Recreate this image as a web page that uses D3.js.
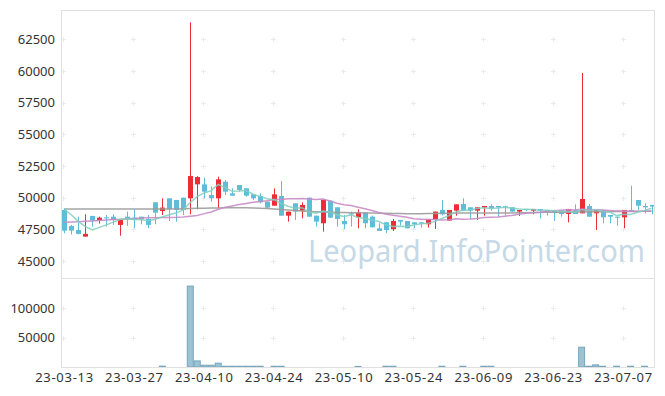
<!DOCTYPE html>
<html><head><meta charset="utf-8">
<script src="https://cdn.jsdelivr.net/npm/d3@7"></script>
<style>body{margin:0;background:#fff}svg{display:block}</style>
</head><body><svg id="c" width="665" height="396"></svg>
<script>
const dates = [
"23-03-13","23-03-14","23-03-15","23-03-16","23-03-17","23-03-20","23-03-21","23-03-22","23-03-23","23-03-24",
"23-03-27","23-03-28","23-03-29","23-03-30","23-03-31","23-04-03","23-04-04","23-04-05","23-04-06","23-04-07",
"23-04-10","23-04-11","23-04-12","23-04-13","23-04-14","23-04-17","23-04-18","23-04-19","23-04-20","23-04-21",
"23-04-24","23-04-25","23-04-26","23-04-27","23-04-28","23-05-02","23-05-03","23-05-04","23-05-08","23-05-09",
"23-05-10","23-05-11","23-05-12","23-05-15","23-05-16","23-05-17","23-05-18","23-05-19","23-05-22","23-05-23",
"23-05-24","23-05-25","23-05-26","23-05-30","23-05-31","23-06-01","23-06-02","23-06-05","23-06-07","23-06-08",
"23-06-09","23-06-12","23-06-13","23-06-14","23-06-15","23-06-16","23-06-19","23-06-20","23-06-21","23-06-22",
"23-06-23","23-06-26","23-06-27","23-06-28","23-06-29","23-06-30","23-07-03","23-07-04","23-07-05","23-07-06",
"23-07-07","23-07-10","23-07-11","23-07-12","23-07-13"];
const opens = [
49030,47770,47450,46925,48560,48190,48450,48500,47850,48500,
48425,48500,48320,49635,48950,49950,49820,50000,49950,51055,
51055,50210,49950,51265,50345,51000,50740,50265,50135,49690,
49370,50135,48580,49555,48975,50000,48580,47980,49765,49240,
48160,48765,48450,48845,48500,47580,48055,47505,48240,48160,
48055,48055,47900,48295,49030,48190,48975,49500,49240,48975,
49215,49345,49345,49320,49240,48900,49100,48975,49110,49030,
48975,48975,48715,49030,48765,49345,48765,49030,48635,48500,
48450,49030,49820,49345,49425];
const highs = [
49160,47850,48500,48690,48560,48500,48635,48690,48240,48900,
49080,48500,48635,49635,49950,49950,49820,50000,63850,51700,
51580,50870,51660,51400,50740,51000,50740,50265,50345,49690,
50740,51320,48900,49555,49635,50000,48580,49820,49765,49240,
48635,48900,49080,48845,48580,47980,48055,48320,48240,48160,
48055,48055,48320,48900,49820,49030,49475,49950,49240,49240,
49345,49475,49345,49370,49240,49030,49100,49110,49110,49030,
48975,48975,49110,49475,59860,49500,49030,49030,48635,48500,
49030,50950,49820,49555,49425];
const lows = [
47190,47100,47100,46925,47715,47950,47715,47850,47000,47770,
47580,47900,47580,47900,48635,48160,48110,48635,48690,49080,
49950,49690,49160,50210,50160,50475,50080,49820,49555,49160,
49370,48580,48110,48240,48370,48500,47715,47320,48425,47715,
47530,47715,47580,47580,47660,47370,47190,47370,47795,47580,
47580,47635,47635,47530,48600,48190,48580,48975,48320,48240,
48580,48975,48500,48580,48900,48555,48950,48690,48370,48580,
48160,48500,48055,48715,48765,48500,47450,47980,47980,47795,
47580,48900,49030,48765,48690];
const closes = [
47400,47400,47140,47140,48190,48425,48370,48240,48240,48290,
48240,48290,47850,48820,49215,49110,49030,49030,51710,51630,
50475,49950,51450,50475,50160,50610,50160,49950,49635,49215,
50265,48580,48900,48900,49425,48500,48110,49820,48425,48320,
47900,48740,48820,47980,47660,47370,47450,48160,48110,47580,
47900,47950,48320,48900,48690,49030,49475,48975,48975,49240,
49345,49160,49240,49240,48900,49030,49030,49110,48975,48900,
48845,48715,49110,48715,49900,48500,49030,48450,48500,48450,
49030,48900,49370,49240,49295];
const volume = [
0,0,0,0,0,0,0,0,0,0,
0,0,0,0,1500,0,0,0,137900,10400,
3000,3000,6500,1300,1300,1300,1300,1300,1300,0,
1300,1300,0,0,0,0,0,0,0,0,
0,0,1000,0,0,0,1300,1300,0,0,
0,0,0,0,1300,0,0,1300,0,0,
1300,1300,0,0,0,0,0,0,0,0,
0,0,0,0,33700,1300,3600,1300,0,1300,
0,1300,0,1300,0];
const prevCloses = [49600, 49750, 49100, 49500];
// 20-day line where its window reaches before the visible data
const ma20Early = [48060,48080,48100,48130,48160,48200,48240,48270,48300,48330,
48360,48390,48410,48420,48430,48440,48450,48480,48530];
// long (grey) average line
const ma60 = [
49100,49100,49100,49100,49100,49100,49100,49100,49100,49100,
49100,49100,49100,49100,49100,49100,49110,49120,49140,49160,
49170,49180,49190,49200,49210,49210,49200,49190,49170,49140,
49100,49060,49020,48980,48940,48910,48890,48870,48850,48840,
48830,48820,48810,48800,48790,48780,48770,48760,48750,48740,
48740,48740,48750,48760,48770,48780,48790,48800,48800,48800,
48800,48800,48800,48800,48800,48810,48820,48830,48840,48850,
48850,48860,48860,48870,48870,48880,48880,48890,48890,48900,
48900,48910,48910,48920,48920];
const priceTicks = [45000,47500,50000,52500,55000,57500,60000,62500];
const volTicks = [50000,100000];
const xTickLabels = ["23-03-13","23-03-27","23-04-10","23-04-24","23-05-10","23-05-24","23-06-09","23-06-23","23-07-07"];
const watermark = "Leopard.InfoPointer.com";

// derived moving averages
const allCloses = prevCloses.concat(closes);
const ma5 = closes.map((c,i)=> d3.mean(allCloses.slice(i, i+5)));
const ma20 = closes.map((c,i)=> i < ma20Early.length ? ma20Early[i] : d3.mean(closes.slice(i-19, i+1)));

const svg = d3.select("#c");
const L=61, R=655, T=10, MID=278, B=367;
const FONT = "'Noto Sans', sans-serif";
const x = d3.scaleBand().domain(dates).range([L,R]).padding(0);
const bw = x.bandwidth();
const cx = d => x(d) + bw/2;
const y = d3.scaleLinear().domain([43656, 64828]).range([MID, T]);
const yv = d3.scaleLinear().domain([0, d3.max(volume)*1.1]).range([B, MID]);

const RED = "#ee2c36", BLUE = "#5fbdd8";

// grid "+" marks
const grid = svg.append("g").attr("stroke","#ebebeb").attr("stroke-width",1);
const plus = (px,py)=>{
  grid.append("line").attr("x1",px-2.5).attr("x2",px+2.5).attr("y1",py).attr("y2",py);
  grid.append("line").attr("x1",px).attr("x2",px).attr("y1",py-2.5).attr("y2",py+2.5);
};
xTickLabels.forEach(d=>{
  const px = Math.round(cx(d))-0.5;
  priceTicks.forEach(v=>plus(px, Math.round(y(v))+0.5));
  volTicks.forEach(v=>plus(px, Math.round(yv(v))+0.5));
});

// watermark
svg.append("text").attr("x", 308).attr("y", 262)
  .attr("font-family", FONT).attr("font-size", 30)
  .attr("textLength", 337).attr("lengthAdjust","spacingAndGlyphs")
  .attr("fill", "#c6d9e6").text(watermark);

// candles
const idx = d3.range(dates.length);
const cg = svg.append("g");
cg.selectAll("line").data(idx).join("line")
  .attr("x1", i=>Math.round(cx(dates[i]))+0.5).attr("x2", i=>Math.round(cx(dates[i]))+0.5)
  .attr("y1", i=>y(highs[i])).attr("y2", i=>y(lows[i]))
  .attr("stroke", i=> closes[i] > opens[i] ? RED : BLUE).attr("stroke-width",1);
cg.selectAll("rect").data(idx).join("rect")
  .attr("x", i=>Math.round(cx(dates[i]))-2)
  .attr("width", 5)
  .attr("y", i=>y(Math.max(opens[i],closes[i])))
  .attr("height", i=>Math.max(1, Math.abs(y(opens[i])-y(closes[i]))))
  .attr("fill", i=> closes[i] > opens[i] ? RED : BLUE);

// moving averages
const line = arr => d3.line().x((v,i)=>cx(dates[i])).y(v=>y(v))(arr);
svg.append("path").attr("d", line(ma60)).attr("fill","none").attr("stroke","#9b9b9b").attr("stroke-width",1.5).attr("opacity",0.9);
svg.append("path").attr("d", line(ma20)).attr("fill","none").attr("stroke","#c88cc6").attr("stroke-width",1.5).attr("opacity",0.9);
svg.append("path").attr("d", line(ma5)).attr("fill","none").attr("stroke","#80cfc0").attr("stroke-width",1.5).attr("opacity",0.85);

// volume bars
svg.append("g").selectAll("rect").data(idx.filter(i=>volume[i]>0)).join("rect")
  .attr("x", i=>x(dates[i])+0.5).attr("width", bw-1)
  .attr("y", i=>yv(volume[i])).attr("height", i=>yv(0)-yv(volume[i]))
  .attr("fill","#9cc3d3").attr("stroke","#74a6bd").attr("stroke-width",1);

// frame
const fr = svg.append("g").attr("stroke","#e0e0e0").attr("fill","none");
fr.append("rect").attr("x",L+0.5).attr("y",T+0.5).attr("width",R-L-1).attr("height",B-T);
fr.append("line").attr("x1",L).attr("x2",R).attr("y1",MID+0.5).attr("y2",MID+0.5);

// axes
const styleAxis = g => { g.select(".domain").remove();
  g.selectAll("text").attr("font-family",FONT).attr("font-size",13).attr("fill","#333"); };
svg.append("g").attr("transform",`translate(${L},0)`)
  .call(d3.axisLeft(y).tickValues(priceTicks).tickFormat(d3.format("d")).tickSize(0).tickPadding(6)).call(styleAxis);
svg.append("g").attr("transform",`translate(${L},0)`)
  .call(d3.axisLeft(yv).tickValues(volTicks).tickFormat(d3.format("d")).tickSize(0).tickPadding(6)).call(styleAxis);
svg.append("g").attr("transform",`translate(0,${B})`)
  .call(d3.axisBottom(x).tickValues(xTickLabels).tickSize(0).tickPadding(6)).call(styleAxis)
  .selectAll("text").attr("letter-spacing", 0.7);
</script></body></html>
